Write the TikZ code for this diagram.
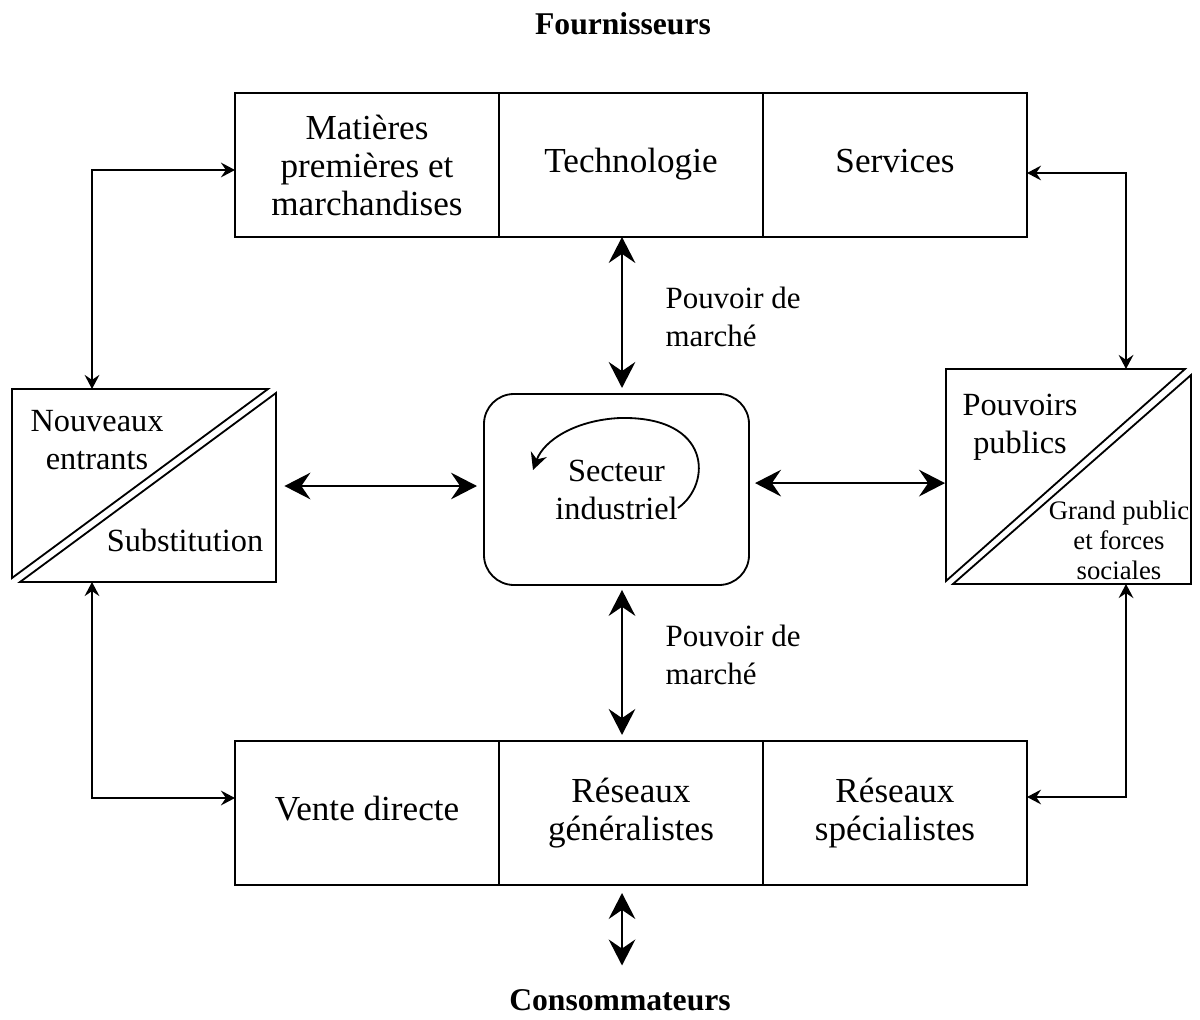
\documentclass[tikz,border=0pt]{standalone}
\usepackage{fontspec}
\setmainfont{Liberation Serif}
\usetikzlibrary{arrows.meta,positioning,calc}

\begin{document}
\begin{tikzpicture}[
        line width=1.3pt,
        node distance=0pt,
        texte/.style={align=center, font=\fontsize{23}{27}\selectfont},
        case/.style={draw, align=center, font=\fontsize{25}{27}\selectfont, minimum width=6.6cm, minimum height=3.6cm, inner sep=0pt, outer sep=0pt},
        cadre/.style={minimum width=#1, inner sep=0pt, outer sep=0pt},
        titre/.style={font=\bfseries\fontsize{22.5}{27}\selectfont},
        etiquette/.style={right, align=left, font=\fontsize{22}{27}\selectfont},
        grande/.style={{Stealth[length=18.5pt,width=19pt,inset=6.5pt]}-{Stealth[length=18.5pt,width=19pt,inset=6.5pt]}},
        petite/.style={{Stealth[length=10pt,width=10.5pt,inset=3.5pt]}-{Stealth[length=10pt,width=10.5pt,inset=3.5pt]}}
    ]
        \useasboundingbox (0,0) rectangle (30,-25.5);

        % Titres
        \node[titre] (fournisseurs) at (15.575,-0.6) {Fournisseurs};
        \node[titre] (consommateurs) at (15.5,-25.0) {Consommateurs};

        % Fournisseurs
        \node[case] (matiere) at (9.175,-4.125) {Matières\\premières et\\marchandises};
        \node[case, right=of matiere] (techno) {Technologie\strut};
        \node[case, right=of techno] (services) {Services\strut};

        % Distribution
        \node[case] (vente) at (9.175,-20.325) {Vente directe\strut};
        \node[case, right=of vente] (generalistes) {Réseaux\\généralistes};
        \node[case, right=of generalistes] (specialistes) {Réseaux\\spécialistes};

        % Secteur industriel
        \node[draw, texte, rounded corners=0.75cm, cadre=6.625cm, minimum height=4.775cm] (secteur) at (15.4125,-12.2375) {Secteur\\industriel};
        \draw[-{Stealth[length=12pt,width=12pt,inset=4pt]}] (16.95,-12.7) .. controls (17.8,-12.1) and (17.8,-10.4) .. (15.5,-10.45)
            .. controls (14.4,-10.5) and (13.6,-11.0) .. (13.325,-11.75);

        % Nouveaux entrants / Substitution
        \node[cadre=6.6cm, minimum height=4.825cm] (entrants) at (3.6,-12.1375) {};
        \draw (entrants.north west) -- ([xshift=-0.2cm]entrants.north east) -- ([yshift=0.1cm]entrants.south west) -- cycle;
        \draw ([yshift=-0.1cm]entrants.north east) -- (entrants.south east) -- ([xshift=0.2cm]entrants.south west) -- cycle;
        \node[texte] (nouveaux) at (2.425,-11.0) {Nouveaux\\entrants};
        \node[texte] (substitution) at (4.625,-13.5) {Substitution};

        % Pouvoirs publics / Grand public
        \node[cadre=6.125cm, minimum height=5.375cm] (pouvoirs) at (26.7125,-11.9125) {};
        \draw (pouvoirs.north west) -- ([xshift=-0.15cm]pouvoirs.north east) -- ([yshift=0.075cm]pouvoirs.south west) -- cycle;
        \draw ([yshift=-0.15cm]pouvoirs.north east) -- (pouvoirs.south east) -- ([xshift=0.175cm]pouvoirs.south west) -- cycle;
        \node[texte] (publics) at (25.5,-10.675) {Pouvoirs\\publics};
        \node[align=center, font=\fontsize{19}{21.3}\selectfont] (grandpublic) at (27.975,-13.5) {Grand public\\et forces\\sociales};

        % Liaisons aux angles
        \draw[petite] ([xshift=2cm]entrants.north west) |- ([yshift=-0.125cm]matiere.west);
        \draw[petite] ([yshift=-0.2cm]services.east) -| ([xshift=-1.625cm]pouvoirs.north east);
        \draw[petite] ([xshift=2cm]entrants.south west) |- ([yshift=0.375cm]vente.west);
        \draw[petite] ([xshift=-1.625cm]pouvoirs.south east) |- ([yshift=0.4cm]specialistes.east);

        % Pouvoir de marché
        \coordinate (axe) at (15.55,0);
        \draw[grande, shorten <=4.3pt] (axe |- secteur.north) -- (axe |- techno.south);
        \draw[grande, shorten <=3.5pt, shorten >=4.3pt] (axe |- secteur.south) -- (axe |- generalistes.north);
        \draw[grande, shorten <=5.7pt, shorten >=13pt] (axe |- generalistes.south) -- (axe |- consommateurs.north);
        \node[etiquette] (marchehaut) at (16.5,-7.925) {Pouvoir de\\marché};
        \node[etiquette] (marchebas) at (16.5,-16.375) {Pouvoir de\\marché};

        % Liaisons horizontales
        \draw[grande, shorten <=6pt, shorten >=5pt] ($(entrants.east)+(0,-0.0125)$) -- ($(entrants.east -| secteur.west)+(0,-0.0125)$);
        \draw[grande, shorten <=4.3pt, shorten >=0.7pt] ($(secteur.east)+(0,0.16)$) -- ($(secteur.east -| pouvoirs.west)+(0,0.16)$);
\end{tikzpicture}
\end{document}
